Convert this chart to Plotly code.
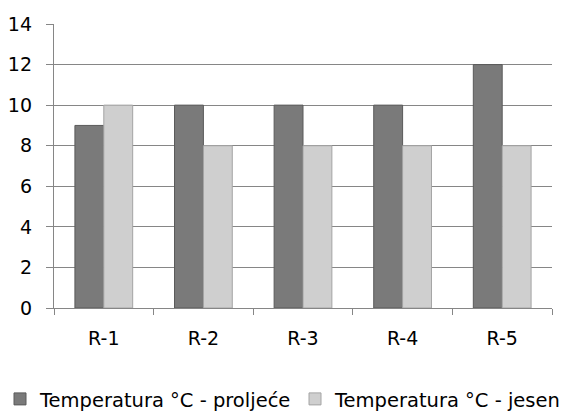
import plotly.graph_objects as go

# Measuring stations and seasonal temperatures
stations = ["R-1", "R-2", "R-3", "R-4", "R-5"]
temp_spring = [9, 10, 10, 10, 12]
temp_autumn = [10, 8, 8, 8, 8]

series_names = ["Temperatura °C - proljeće", "Temperatura °C - jesen"]
y_ticks = [0, 2, 4, 6, 8, 10, 12, 14]

grid_color = "#868686"
family = "DejaVu Sans, Verdana, sans-serif"
tick_font = dict(family=family, size=19, color="#000000")
legend_font = dict(family=family, size=19.5, color="#000000")

fig = go.Figure()
fig.add_trace(go.Bar(
    x=stations, y=temp_spring, name=series_names[0], legend="legend",
    marker=dict(color="#7a7a7a", line=dict(color="#5a5a5a", width=1)),
))
fig.add_trace(go.Bar(
    x=stations, y=temp_autumn, name=series_names[1], legend="legend2",
    marker=dict(color="#cfcfcf", line=dict(color="#a4a4a4", width=1)),
))

legend_common = dict(orientation="h", yref="container", y=0.038, yanchor="middle",
                     xref="container", font=legend_font, itemwidth=30,
                     bgcolor="rgba(0,0,0,0)")

fig.update_layout(
    width=566, height=415,
    margin=dict(l=54, r=14, t=24, b=107, autoexpand=False),
    paper_bgcolor="white", plot_bgcolor="white",
    font=tick_font,
    barmode="group", bargap=0.42, bargroupgap=0,
    showlegend=True,
    legend=dict(legend_common, x=0.0, xanchor="left"),
    legend2=dict(legend_common, x=1.0, xanchor="right"),
)
fig.update_xaxes(
    showline=True, linecolor=grid_color, linewidth=1.3,
    ticks="outside", tickson="boundaries", ticklen=6, tickcolor=grid_color,
    ticklabelstandoff=13,
    showgrid=False,
)
fig.update_yaxes(
    range=[0, 14], tickvals=y_ticks,
    showline=True, linecolor=grid_color, linewidth=1.3,
    ticks="outside", ticklen=7, tickcolor=grid_color,
    ticklabelstandoff=10,
    showgrid=True, gridcolor=grid_color, gridwidth=1.3,
    zeroline=False,
)

fig.write_html("out.html")
